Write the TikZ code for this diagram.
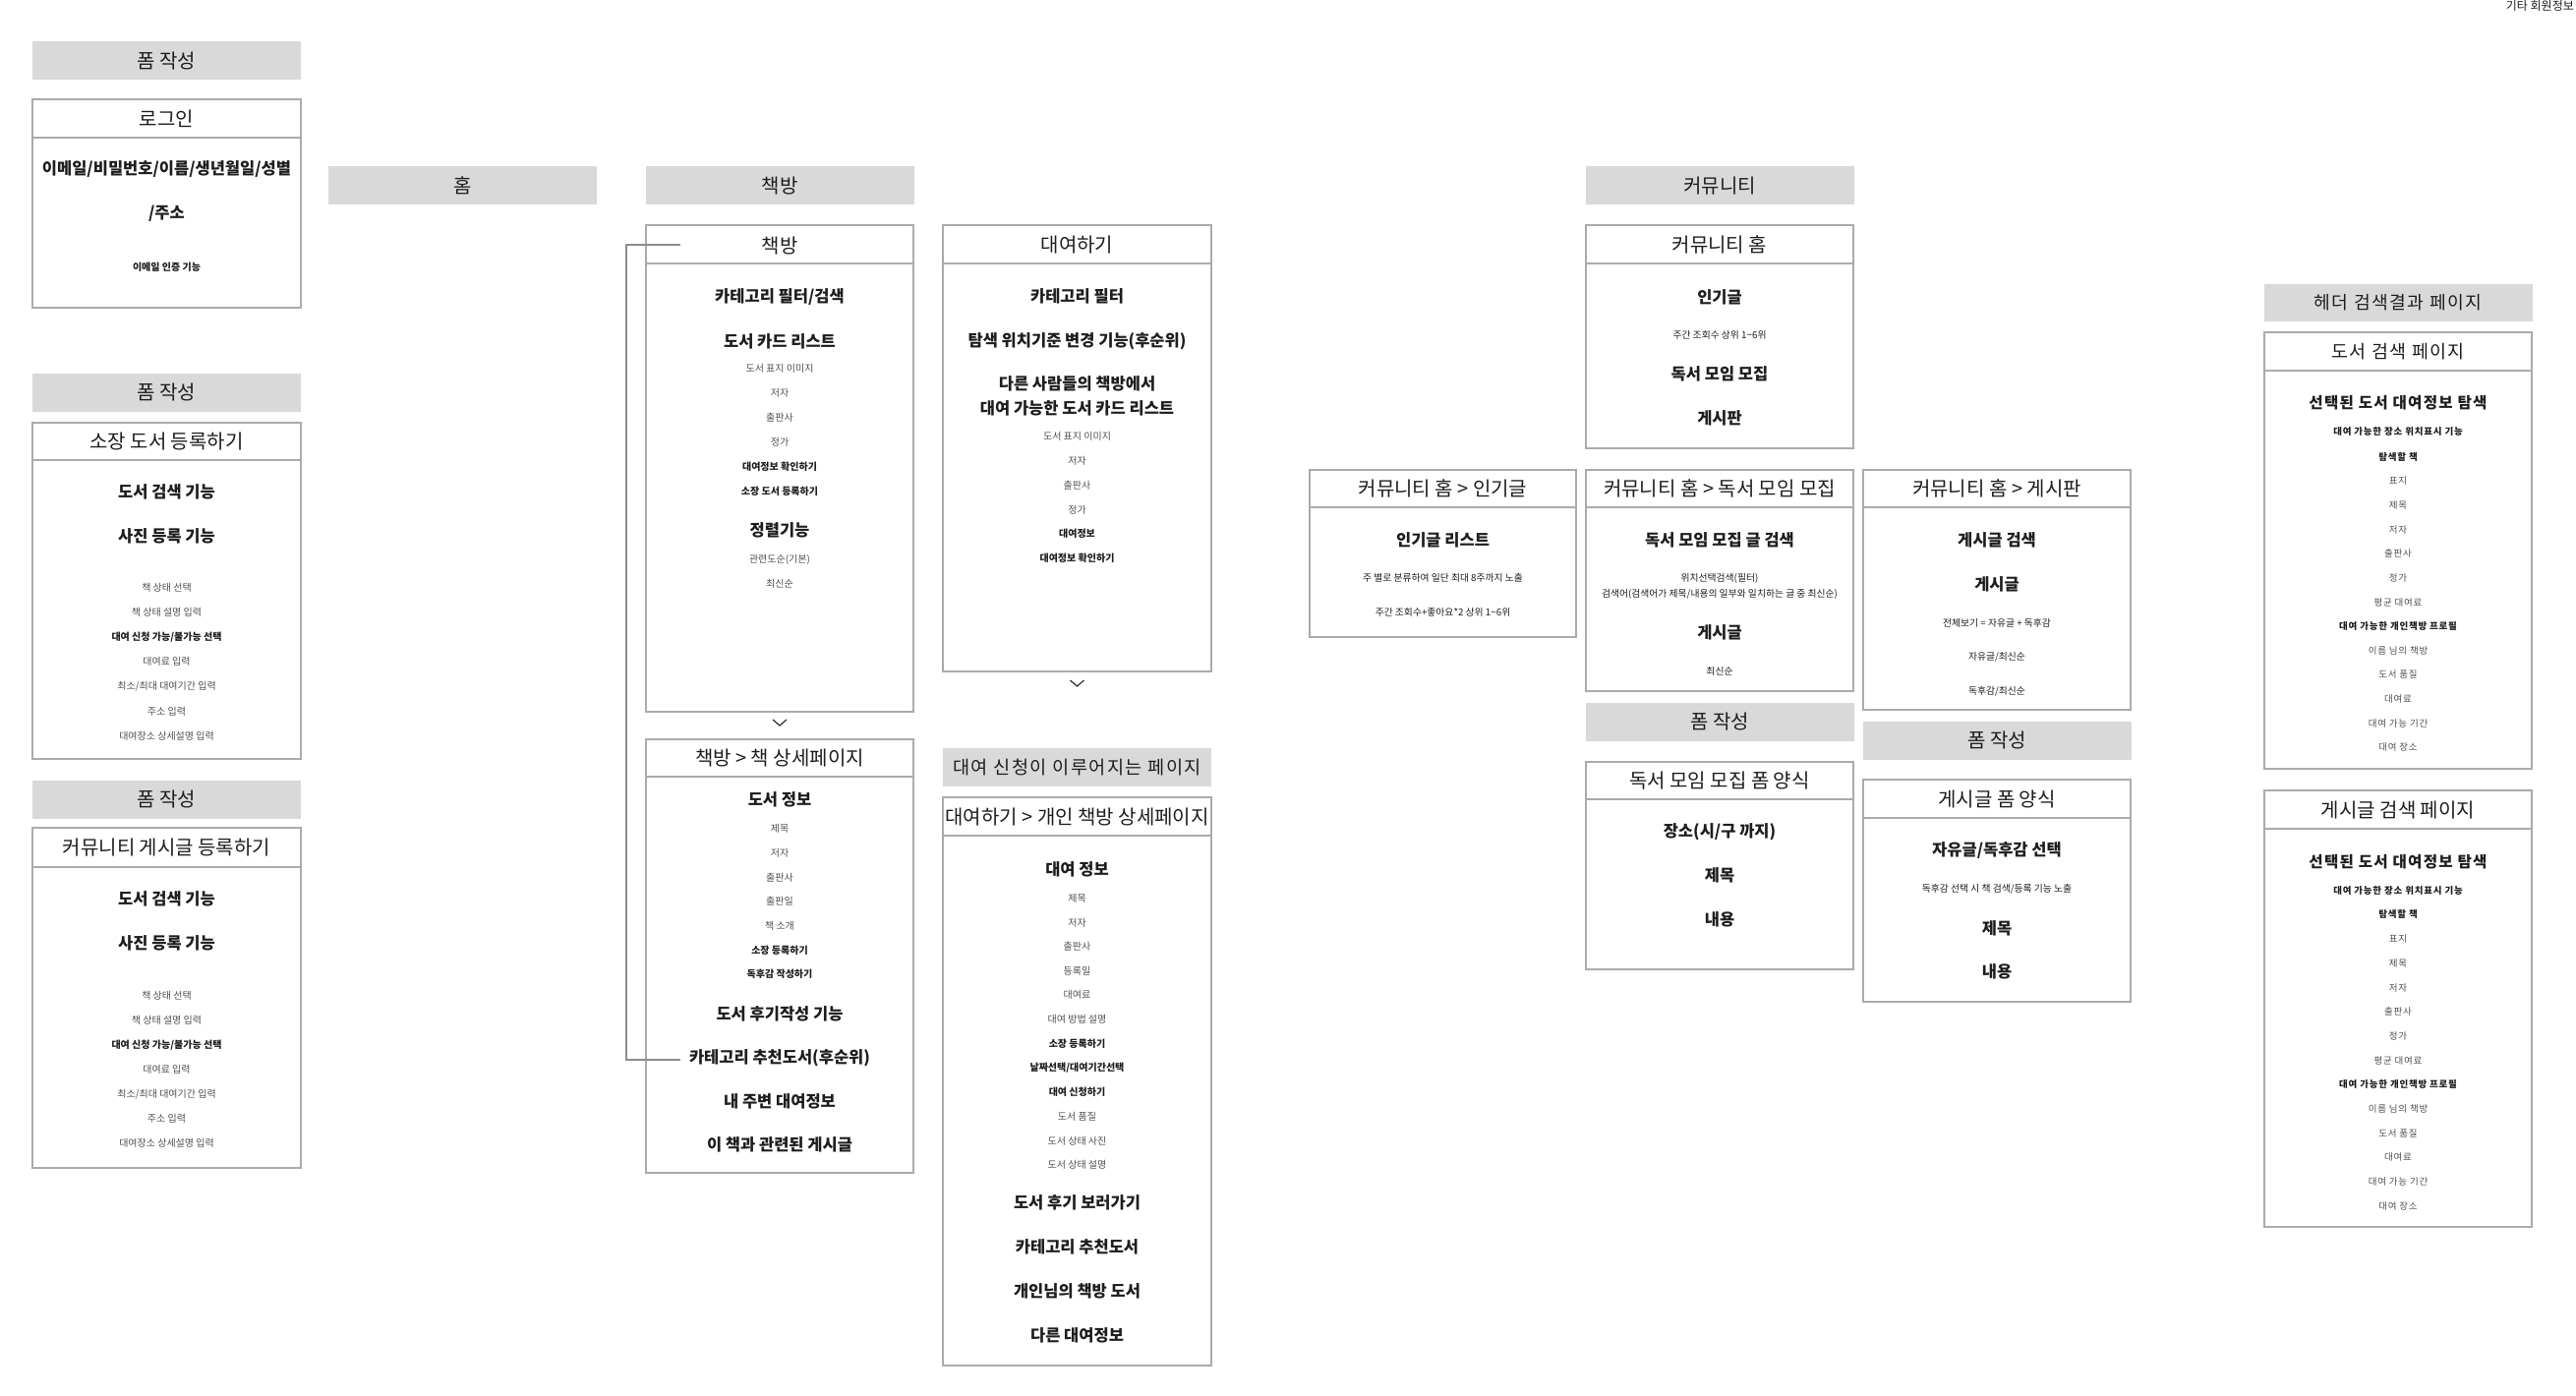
\documentclass[tikz,border=0pt]{standalone}
\usepackage{fontspec}
\setmainfont{Noto Sans CJK KR}
\newfontfamily\spaced[LetterSpace=8]{Noto Sans CJK KR}
\definecolor{framegray}{HTML}{ABABAB}
\definecolor{hdrgray}{HTML}{D9D9D9}
\definecolor{txt}{HTML}{1E1E1E}
\definecolor{smgray}{HTML}{505050}
\definecolor{linegray}{HTML}{8C8C8C}
\tikzset{
  frame/.style={draw=framegray, line width=1.4pt},
  hdr/.style={fill=hdrgray, minimum width=273pt, minimum height=39pt, inner sep=0pt, font=\fontsize{20}{23}\selectfont, text=txt},
  ttl/.style={inner sep=0pt, font=\fontsize{20}{23}\selectfont, text=txt},
  big/.style={inner sep=0pt, font=\fontsize{16.5}{19}\selectfont\bfseries, text=txt},
  sm/.style={inner sep=0pt, font=\fontsize{10}{12}\selectfont, text=smgray},
  smd/.style={inner sep=0pt, font=\fontsize{9.8}{11}\selectfont, text=txt},
  smb/.style={inner sep=0pt, font=\fontsize{10}{12}\selectfont\bfseries, text=txt},
  gbig/.style={big, font=\spaced\fontsize{15.6}{18}\selectfont\bfseries},
  gsm/.style={sm, font=\spaced\fontsize{9.5}{11}\selectfont},
  gsmb/.style={smb, font=\spaced\fontsize{9.5}{11}\selectfont\bfseries},
  chev/.style={draw=txt, line width=1.1pt},
  bracket/.style={draw=linegray, line width=1.2pt}
}
\newcommand\pagebox[8]{%
  \draw[frame] (#2,#3) rectangle (#4,#5);
  \draw[frame] (#2,#6) -- (#4,#6);
  \node[ttl] (#1) at ({(#2+#4)/2},#7) {#8};}
\begin{document}
\begin{tikzpicture}[x=1pt,y=-1pt]
\useasboundingbox (0,0) rectangle (2620,1420);
\fill[white] (0,0) rectangle (2620,1420);

\node[inner sep=0pt, anchor=east, font=\fontsize{12}{14}\selectfont, text=txt] (etc) at (2618,6) {기타 회원정보};

% ---------- column A ----------
\node[hdr] (hA1) at (169.5,62) {폼 작성};
\pagebox{tA1}{33}{101}{306}{313}{140}{121}{로그인}
\node[big] (a11) at (169.5,172) {이메일/비밀번호/이름/생년월일/성별};
\node[big] (a12) at (169.5,217) {/주소};
\node[smb] (a13) at (169.5,272) {이메일 인증 기능};

\node[hdr] (hA2) at (169.5,399.5) {폼 작성};
\pagebox{tA2}{33}{430}{306}{772}{468}{449}{소장 도서 등록하기}
\node[big] (a21) at (169.5,500) {도서 검색 기능};
\node[big] (a22) at (169.5,545) {사진 등록 기능};
\node[sm] (a23) at (169.5,598) {책 상태 선택};
\node[sm] (a24) at (169.5,623) {책 상태 설명 입력};
\node[smb] (a25) at (169.5,648) {대여 신청 가능/불가능 선택};
\node[sm] (a26) at (169.5,673) {대여료 입력};
\node[sm] (a27) at (169.5,698) {최소/최대 대여기간 입력};
\node[sm] (a28) at (169.5,724) {주소 입력};
\node[sm] (a29) at (169.5,749) {대여장소 상세설명 입력};

\node[hdr] (hA3) at (169.5,813.5) {폼 작성};
\pagebox{tA3}{33}{842}{306}{1188}{882}{862}{커뮤니티 게시글 등록하기}
\node[big] (a31) at (169.5,914) {도서 검색 기능};
\node[big] (a32) at (169.5,959) {사진 등록 기능};
\node[sm] (a33) at (169.5,1013) {책 상태 선택};
\node[sm] (a34) at (169.5,1038) {책 상태 설명 입력};
\node[smb] (a35) at (169.5,1063) {대여 신청 가능/불가능 선택};
\node[sm] (a36) at (169.5,1088) {대여료 입력};
\node[sm] (a37) at (169.5,1113) {최소/최대 대여기간 입력};
\node[sm] (a38) at (169.5,1138) {주소 입력};
\node[sm] (a39) at (169.5,1163) {대여장소 상세설명 입력};

% ---------- home ----------
\node[hdr] (hHome) at (470.5,189) {홈};

% ---------- column B ----------
\node[hdr] (hB) at (793,189) {책방};
\pagebox{tB1}{657}{229}{929}{724}{268}{250}{책방}
\node[big] (b11) at (793,302) {카테고리 필터/검색};
\node[big] (b12) at (793,347) {도서 카드 리스트};
\node[sm] (b13) at (793,375) {도서 표지 이미지};
\node[sm] (b14) at (793,400) {저자};
\node[sm] (b15) at (793,425) {출판사};
\node[sm] (b16) at (793,450) {정가};
\node[smb] (b17) at (793,475) {대여정보 확인하기};
\node[smb] (b18) at (793,500) {소장 도서 등록하기};
\node[big] (b19) at (793,539) {정렬기능};
\node[sm] (b1a) at (793,569) {관련도순(기본)};
\node[sm] (b1b) at (793,594) {최신순};
\draw[chev] (786,732) -- (793,738) -- (800,732);

\pagebox{tB2}{657}{752}{929}{1193}{790}{771}{책방 > 책 상세페이지}
\node[big] (b21) at (793,813) {도서 정보};
\node[sm] (b22) at (793,843) {제목};
\node[sm] (b23) at (793,868) {저자};
\node[sm] (b24) at (793,893) {출판사};
\node[sm] (b25) at (793,917) {출판일};
\node[sm] (b26) at (793,942) {책 소개};
\node[smb] (b27) at (793,967) {소장 등록하기};
\node[smb] (b28) at (793,991) {독후감 작성하기};
\node[big] (b29) at (793,1031) {도서 후기작성 기능};
\node[big] (b2a) at (793,1076) {카테고리 추천도서(후순위)};
\node[big] (b2b) at (793,1120) {내 주변 대여정보};
\node[big] (b2c) at (793,1164) {이 책과 관련된 게시글};
\coordinate (brA) at (692,249);
\coordinate (brB) at (692,1078);
\draw[bracket] (brA) -- (637,249) -- (637,1078) -- (brB);

% ---------- column C ----------
\pagebox{tC1}{959}{229}{1232}{683}{268}{249}{대여하기}
\node[big] (c11) at (1095.5,301) {카테고리 필터};
\node[big] (c12) at (1095.5,347) {탐색 위치기준 변경 기능(후순위)};
\node[big] (c13) at (1095.5,390) {다른 사람들의 책방에서};
\node[big] (c14) at (1095.5,415) {대여 가능한 도서 카드 리스트};
\node[sm] (c15) at (1095.5,444) {도서 표지 이미지};
\node[sm] (c16) at (1095.5,469) {저자};
\node[sm] (c17) at (1095.5,494) {출판사};
\node[sm] (c18) at (1095.5,519) {정가};
\node[smb] (c19) at (1095.5,543) {대여정보};
\node[smb] (c1a) at (1095.5,568) {대여정보 확인하기};
\draw[chev] (1088.5,692) -- (1095.5,698) -- (1102.5,692);

\node[hdr, font=\spaced\fontsize{18.6}{21}\selectfont] (hC) at (1095.5,780.5) {대여 신청이 이루어지는 페이지};
\pagebox{tC2}{959}{811}{1232}{1389}{850}{831}{대여하기 > 개인 책방 상세페이지}
\node[big] (c21) at (1095.5,884) {대여 정보};
\node[sm] (c22) at (1095.5,914) {제목};
\node[sm] (c23) at (1095.5,939) {저자};
\node[sm] (c24) at (1095.5,963) {출판사};
\node[sm] (c25) at (1095.5,988) {등록일};
\node[sm] (c26) at (1095.5,1012) {대여료};
\node[sm] (c27) at (1095.5,1037) {대여 방법 설명};
\node[smb] (c28) at (1095.5,1062) {소장 등록하기};
\node[smb] (c29) at (1095.5,1086) {날짜선택/대여기간선택};
\node[smb] (c2a) at (1095.5,1111) {대여 신청하기};
\node[sm] (c2b) at (1095.5,1136) {도서 품질};
\node[sm] (c2c) at (1095.5,1161) {도서 상태 사진};
\node[sm] (c2d) at (1095.5,1185) {도서 상태 설명};
\node[big] (c2e) at (1095.5,1223) {도서 후기 보러가기};
\node[big] (c2f) at (1095.5,1268) {카테고리 추천도서};
\node[big] (c2g) at (1095.5,1313) {개인님의 책방 도서};
\node[big] (c2h) at (1095.5,1358) {다른 대여정보};

% ---------- column D ----------
\pagebox{tD1}{1332}{478}{1603}{648}{516}{497}{커뮤니티 홈 > 인기글}
\node[big] (d11) at (1467.5,549) {인기글 리스트};
\node[smd] (d12) at (1467.5,588) {주 별로 분류하여 일단 최대 8주까지 노출};
\node[smd] (d13) at (1467.5,623) {주간 조회수+좋아요*2 상위 1\textasciitilde 6위};

% ---------- column E ----------
\node[hdr] (hE) at (1749,189) {커뮤니티};
\pagebox{tE1}{1613}{229}{1885}{456}{268}{249}{커뮤니티 홈}
\node[big] (e11) at (1749,302) {인기글};
\node[smd] (e12) at (1749,341) {주간 조회수 상위 1\textasciitilde 6위};
\node[big] (e13) at (1749,380) {독서 모임 모집};
\node[big] (e14) at (1749,425) {게시판};

\pagebox{tE2}{1613}{478}{1885}{703}{516}{497}{커뮤니티 홈 > 독서 모임 모집}
\node[big] (e21) at (1749,549) {독서 모임 모집 글 검색};
\node[smd] (e22) at (1749,588) {위치선택검색(필터)};
\node[smd] (e23) at (1749,604) {검색어(검색어가 제목/내용의 일부와 일치하는 글 중 최신순)};
\node[big] (e24) at (1749,643) {게시글};
\node[smd] (e25) at (1749,683) {최신순};

\node[hdr] (hE2) at (1749,734.5) {폼 작성};
\pagebox{tE3}{1613}{775}{1885}{986}{813}{794}{독서 모임 모집 폼 양식}
\node[big] (e31) at (1749,846) {장소(시/구 까지)};
\node[big] (e32) at (1749,890) {제목};
\node[big] (e33) at (1749,935) {내용};

% ---------- column F ----------
\pagebox{tF1}{1895}{478}{2167}{722}{516}{497}{커뮤니티 홈 > 게시판}
\node[big] (f11) at (2031,549) {게시글 검색};
\node[big] (f12) at (2031,594) {게시글};
\node[smd] (f13) at (2031,634) {전체보기 = 자유글 + 독후감};
\node[smd] (f14) at (2031,668) {자유글/최신순};
\node[smd] (f15) at (2031,703) {독후감/최신순};

\node[hdr] (hF) at (2031,753) {폼 작성};
\pagebox{tF2}{1895}{793}{2167}{1019}{832}{813}{게시글 폼 양식}
\node[big] (f21) at (2031,865) {자유글/독후감 선택};
\node[smd] (f22) at (2031,904) {독후감 선택 시 책 검색/등록 기능 노출};
\node[big] (f23) at (2031,944) {제목};
\node[big] (f24) at (2031,988) {내용};

% ---------- column G ----------
\node[hdr, minimum height=38pt, font=\spaced\fontsize{18.2}{21}\selectfont] (hG) at (2439,308) {헤더 검색결과 페이지};
\pagebox{tG1}{2303}{338}{2575}{782}{377}{358}{\spaced\fontsize{18.4}{21}\selectfont 도서 검색 페이지}
\node[gbig] (g11) at (2439,410) {선택된 도서 대여정보 탐색};
\node[gsmb] (g12) at (2439,439) {대여 가능한 장소 위치표시 기능};
\node[gsmb] (g13) at (2439,465) {탐색할 책};
\node[gsm] (g14) at (2439,489) {표지};
\node[gsm] (g15) at (2439,514) {제목};
\node[gsm] (g16) at (2439,539) {저자};
\node[gsm] (g17) at (2439,563) {출판사};
\node[gsm] (g18) at (2439,588) {정가};
\node[gsm] (g19) at (2439,613) {평균 대여료};
\node[gsmb] (g1a) at (2439,637) {대여 가능한 개인책방 프로필};
\node[gsm] (g1b) at (2439,662) {이름 님의 책방};
\node[gsm] (g1c) at (2439,686) {도서 품질};
\node[gsm] (g1d) at (2439,711) {대여료};
\node[gsm] (g1e) at (2439,736) {대여 가능 기간};
\node[gsm] (g1f) at (2439,760) {대여 장소};

\pagebox{tG2}{2303}{804}{2575}{1248}{843}{824}{게시글 검색 페이지}
\node[gbig] (g21) at (2439,877) {선택된 도서 대여정보 탐색};
\node[gsmb] (g22) at (2439,906) {대여 가능한 장소 위치표시 기능};
\node[gsmb] (g23) at (2439,930) {탐색할 책};
\node[gsm] (g24) at (2439,955) {표지};
\node[gsm] (g25) at (2439,980) {제목};
\node[gsm] (g26) at (2439,1005) {저자};
\node[gsm] (g27) at (2439,1029) {출판사};
\node[gsm] (g28) at (2439,1054) {정가};
\node[gsm] (g29) at (2439,1079) {평균 대여료};
\node[gsmb] (g2a) at (2439,1103) {대여 가능한 개인책방 프로필};
\node[gsm] (g2b) at (2439,1128) {이름 님의 책방};
\node[gsm] (g2c) at (2439,1153) {도서 품질};
\node[gsm] (g2d) at (2439,1177) {대여료};
\node[gsm] (g2e) at (2439,1202) {대여 가능 기간};
\node[gsm] (g2f) at (2439,1227) {대여 장소};
\end{tikzpicture}
\end{document}
